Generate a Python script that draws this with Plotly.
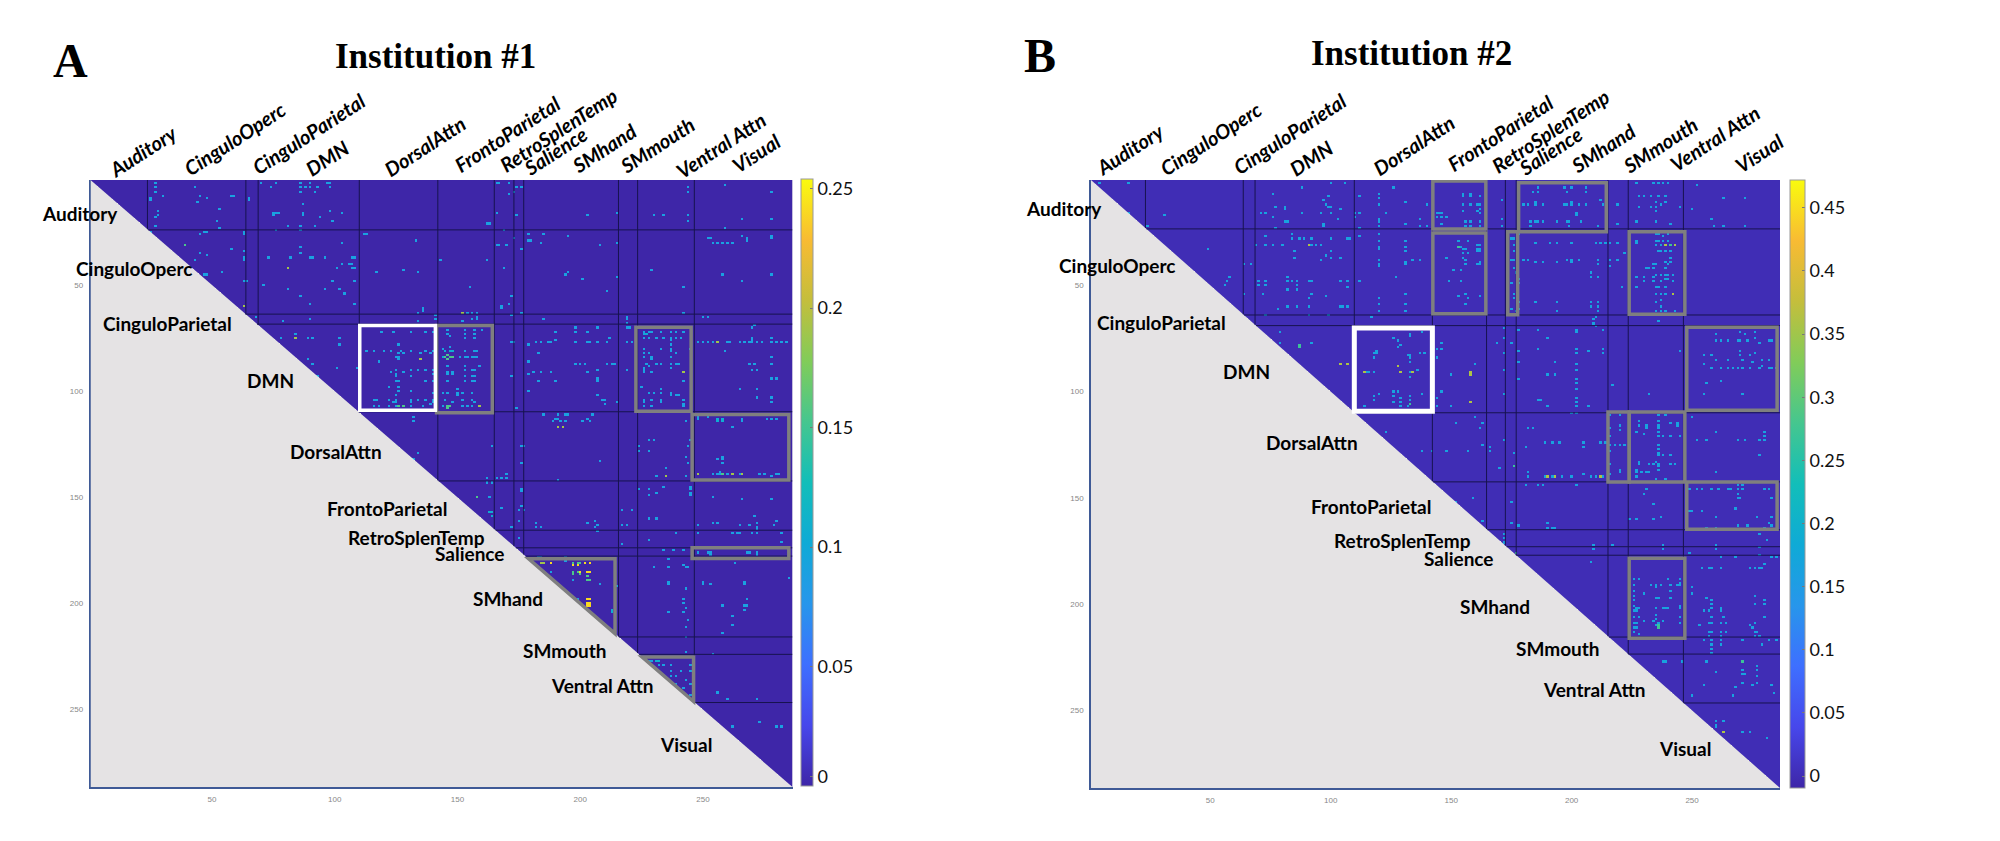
import numpy as np
import plotly.graph_objects as go

N = 286
W, H = 2000, 841

tick_vals = [50, 100, 150, 200, 250]
networks = ["Auditory", "CinguloOperc", "CinguloParietal", "DMN", "DorsalAttn", "FrontoParietal",
            "RetroSplenTemp", "Salience", "SMhand", "SMmouth", "Ventral Attn", "Visual"]

a_bounds_x = [23.7, 63.8, 68.8, 110, 142, 165, 173, 177, 215.6, 223.4, 246.5]
a_bounds_y = [24, 63.7, 68.4, 109.7, 142.3, 165.5, 173.8, 177.7, 215.8, 224, 246.7]
b_bounds_x = [23.1, 63.7, 68.6, 109.8, 142.2, 164.7, 172.5, 177, 215.1, 223.5, 246.4]
b_bounds_y = [23.5, 64, 69, 110, 142.5, 165, 173, 177, 215.5, 223.5, 246.5]

# (col, row) cell positions, grouped by colour level
a_light = [
 (27.4,2),(27.4,4),(27.4,6),(42.7,3.6),(30.4,7.5),(24.7,10),(25.4,10),(25.4,9),(44.7,7.5),(48.4,9),(43.8,11),
 (57.6,8.3),(58.7,8),(64.7,9),(64.7,10),(69.6,1.8),(76,1.8),(74,3.6),(86,2),(86,4),(86,6),(89.6,1.8),(87.6,3.6),
 (90.3,3.6),(93,3.6),(92,5.7),(97.4,1.8),(98,1.8),(98,3.6),(86.6,11.8),(52.6,13.8),(27.7,15),(27.7,17),(27,18.5),
 (74.6,15.8),(76,15.8),(77.4,15.8),(74.6,17),(86.6,15.7),(86.6,17),(97.8,15),(102.8,15.7),(98.9,20),(94.4,18.5),
 (26.6,22),(52,19.6),(81.4,21.6),(86,22),(91.9,21.6),(75.7,23.8),(86.5,23.8),(52.9,23),(25.4,24.8),(24.7,25.6),
 (44.7,25.6),(46.8,24.8),(48,24.8),(62.8,24.8),(62.8,25.9),(112,25.9),(112.9,25.9),(132.9,28.7),(102.8,29.8),
 (57.6,33),(44.7,34.7),(47.7,35.8),(43,37.8),(63.4,33.7),(62.8,36.9),(62.8,38),(72.6,36.9),(81.7,36.9),(85.5,34.7),
 (85.8,31.8),(89.6,36.9),(91,36.9),(96,36.9),(106.6,36.9),(108,36.9),(102.8,39.7),(106,39.7),(107.3,39.7),
 (100.9,42),(107.3,42),(108,42),(116.8,43.6),(128,42.8),(133.8,43.9),(143,37.8),(53.6,43.9),(47.4,44.8),(48,44.8),
 (62.8,47.5),(63.8,47.5),(98.9,47.8),(108,47.8),(70.8,49.9),(80.8,51.7),(95.7,51.7),(102.5,51.7),(103.9,53.8),
 (85.8,54.9),(89.6,58.8),(108,58.8),(135.9,60.8),(135.9,62.4),(133.8,62.9),(133.8,67),(140.6,64),(140.6,65.5),
 (67.8,64.8),(78.7,66.8),(89.6,65.9),(84.4,72.9),(77.8,74.8),(88.9,74.8),(91.2,74.8),(101.9,74.8),(101.9,78),
 (109.8,70.6),(109.8,74.8),(88.7,84.7),(91,86.7),(100.9,88.7),(109.3,88.7),(93.4,93),
 (119.1,71.5),(124,71.5),(130.8,71.5),(137,71.5),(140,71.5),(112.7,80.6),(115.9,80.6),(120,80.6),(123,80.6),
 (130.8,80.6),(137,80.6),(140,80.6),(125.7,78.5),(127,80.6),(125.7,82),(127.7,82),(125,83.6),(126.4,83.6),(125.7,85.1),
 (135.2,82.5),(138.6,82.5),(117.9,85.9),(125,90),(125,91.7),(125,93),(127.7,90.6),(131,90),(131,93),(133.8,90),(137,90),
 (122.9,90.9),(140,90),(140.6,90),(140,91.7),(140.6,91.7),(140,95.3),(140.6,95.3),(137,95.3),(125.7,95.3),(125,95.3),
 (126.4,97.6),(121.6,98.4),(126.4,100.2),(125,101.6),(131,100.3),(140,100.8),(115.9,103.6),(117.2,103.6),(122.3,103.6),
 (123.6,105.2),(125,103.6),(125,105.2),(125,107),(131,103.6),(131,105.2),(134.5,103.6),(136.6,103.6),(140,103.6),
 (140,105.2),(139.3,106.3),(116.1,107),(118.2,107),(121.9,107),(131,107),(135.9,107),(131.8,111.8),(131.8,113.6),
 (133.8,128.7),(132.5,132),
 (166,1.8),(166.6,1.8),(170.7,1.8),(171.4,1.8),(174.1,3.6),(176.2,3.6),(171.1,6.8),(173.2,5.7),(244.2,4),(244.2,5.7),
 (259.4,2.8),(278.5,5.7),(166,15.7),(174.1,16.6),(203.1,16.6),(215.2,15.7),(230.3,16.6),(234.2,16.6),(244.2,16.6),
 (244.2,19.8),(266.4,19.3),(278.5,18.8),(161.9,20.9),(162.8,20.9),(259.4,22.8),(169.1,23.7),(179.1,25.9),(185,25.9),
 (179.1,28.7),(180.2,28.7),(184,29.8),(195.2,26.8),(208.1,30.7),(215.2,29.8),(166,30.7),(166.9,30.7),(170.2,30.7),
 (173.2,27.6),(176.2,33),(251.7,27.8),(252.8,27.8),(254.4,29.8),(255.7,29.8),(258.5,29.8),(259.8,29.8),(262.3,29.8),
 (266.4,27.1),(268.3,27.9),(268.3,29),(278.5,27.1),(278.5,28),(161.9,37.8),(169.1,42),(229.2,42.8),(193.8,45.2),
 (195.2,43.6),(201.3,46.7),(215.2,46),(257.5,44.9),(266.4,47.8),(278.5,44.9),(155,51),(242.4,51),(211.1,52.7),(172,54.9),
 (171.1,58.8),(168,60),(168,60.8),(154.4,62.7),(156.4,62.7),(157.8,62.7),(172,63.7),(176.2,62.7),(242.1,62.7),
 (157.8,64.8),(157.8,66.3),(155.7,66.3),(151.9,66.8),(185,66),(219,64.8),(219,66),(219,67.6),(219,69.9),(220.4,69.9),
 (250.3,64.8),(252.3,64.8),(271.1,69),(270,70.2),(146.2,71),(153,71),(157.1,71),(159.8,71),(146.2,73.4),(146.9,74.5),
 (153,73.4),(153,75.4),(157.1,73.4),(157.1,75.4),(143.5,80.4),(146.9,78.9),(153,81.2),(157.1,81.2),(158.5,81.2),
 (151,84),(153,84),(153.7,84),(155.7,84),(157,84),(158,84),(153,87.5),(159.1,87.5),(146.2,87.5),(146.2,90.6),(146.2,92.2),
 (146.2,95.3),(147.6,90.6),(147.6,92.2),(153,89.8),(153,93),(153,95.3),(156.4,89.8),(157.1,89.8),(156.4,93),(157.1,93),
 (156.4,95.3),(157.1,95.3),(144.2,100.8),(145.5,100.8),(150,99.2),(150,100.8),(152.3,100.8),(156.4,100.8),(149.6,102.4),
 (152.3,104),(156.4,104),(157.1,105.2),(144.9,104),(147.6,104.7),(144.2,107),(151.7,107),(153.7,107),(156.4,107),
 (172,76.8),(173.4,76.8),(179.1,77.8),(182.3,76.8),(183.6,76.8),(187,76.8),(188.4,76.8),(190,75.7),(190,71.5),
 (198.3,69.5),(198.3,71.5),(198.3,76.8),(203.1,71.5),(203.1,76.8),(204,76.8),(207,70),(207,77.3),(212.2,75),(211.1,76.8),
 (219,76.8),(221.3,76.8),(183,82.5),(179.1,85.9),(198.3,86.7),(200.4,86.7),(202.3,86.7),(211.1,86.7),(212.9,86.7),
 (214.2,86.7),(179.1,91.7),(180.9,90.9),(184,90.9),(188.1,90.9),(172,93),(219,90.2),(203.4,90.9),(207,90.2),(207,94),
 (207,95),(183.2,95),(190,95),(179.1,99.7),(207,101.9),(208.8,103.6),(210.2,103.6),(210.2,105.8),(214.9,104.7),(174.1,107.9),
 (225.8,71.5),(228.5,71.5),(229.2,71.5),(233.3,71.5),(237.4,71.5),(239.4,71.5),(241.5,71.5),(226,73),(226.5,75),(228.1,75),
 (231.3,75),(234.2,75),(237.4,75),(239.4,75),(240.8,75),(237.4,76.5),(237.4,78),(245,79.6),(226.2,80.4),(226.2,82),
 (226.2,83.6),(228.5,82),(229.2,83.6),(229.2,85),(233.3,80.4),(237.4,79.6),(237.4,81.2),(239.1,82),(237.4,84.4),(237.4,86.7),
 (237.4,89),(238.7,86.7),(240.4,86.7),(227.2,86.7),(228.5,87.5),(231.3,86.7),(233.3,86.7),(226.5,89),(225.8,90),(225.8,90.9),
 (229.2,90.9),(242.1,95),(224.7,98),(228.1,100.8),(229.5,100.8),(233.3,99.2),(233.3,100.8),(237.4,100.8),(237.4,102),
 (239.4,101.9),(240.4,101.9),(226.2,103.6),(226.2,105.2),(228.9,103.6),(233.3,103.6),(233.3,105.2),(242.1,104),(242.1,105.8),
 (225.8,107.4),(229.2,107.4),(242.1,107.4),(247.6,76.8),(249.6,76.8),(251.7,76.8),(253.7,76.8),(259.8,76.8),(261.2,76.8),
 (265.3,76.8),(266.6,76.8),(268.7,76.8),(270,76.8),(272.1,76.8),(274.1,76.8),(278.2,76.8),(280.2,76.8),(282.3,76.8),(284.3,76.8),
 (270.3,75),(270.3,75.7),(277.5,75),(259.4,80.7),(277.5,83.6),(269.4,86.7),(270.7,86.7),(277.5,86.7),(270.3,90.2),(272.3,90.2),
 (277.5,94),(280.5,94),(265.3,98.9),(272.3,98.9),(272.3,102.8),(277.5,102.8),(277.5,105),
 (185,111),(190.7,111),(193.8,111),(195.2,111),(205.4,111),(189.8,112.6),(191.1,112.6),(189,114.1),(191.8,114.1),(201.3,113.7),
 (203.4,112.6),(204,114),(194.5,114),(243.2,113.7),(262.5,116.8),(248.3,112),(248.3,113),(251.7,112),(266.4,112.6),(266.4,113.7),
 (275.5,112.6),(278.2,112.6),(279.6,112.6),(230.3,122.8),(228.5,122.8),(244.9,122.8),(163.9,125.9),(175.9,125.9),(176.8,125.9),
 (224.5,125.9),(224.5,127.8),(228.1,127.8),(244.2,125.9),(243.2,130.6),(208.1,133),(176.2,133.7),(244.2,133.7),(255.7,131.8),
 (257.5,130.6),(257.5,132.2),(257.5,133.7),(235.3,135.6),(231.3,139.7),(243.2,139.7),(254.4,138.7),(255.7,138.7),(257.1,138.7),
 (260.2,138.7),(264.6,138.7),(273.4,138.7),(274.8,138.7),(279.6,138.7),(281,138.7),(257.1,137.6),(277.5,139.7),(161.9,140.8),
 (166,140.8),(168,140.8),(170,140.8),(170,139.2),(190.8,141.9),(161.9,143.4),(163.6,143.4),
 (175.5,145.6),(176.2,147),(162.8,150),(168,155),(176.2,153.7),(175,155.8),(176.8,155.8),(175,161),(181.9,162),(181.9,163.6),
 (184,164),(172,164),(203.1,162),(206.4,161),(207.4,163),(206.4,164),(206.8,166),(217,155.8),(221.3,155.8),(217,163),(219,163),
 (228.1,159.7),(231.3,159.7),(224.5,145.9),(228.1,145.9),(228.1,148.7),(231.3,147.9),(234.2,144.8),(244.9,144.8),(244.9,146.4),
 (244.9,147.9),(244.9,148.7),(254.4,150),(266.4,151),(278.5,151),(254.4,162),(255.7,162),(256.4,162),(248.5,163),(265.3,163),
 (269.4,163),(271.4,159.2),(272.1,162),(272.1,163.6),(272.1,165),(278.9,163),(280.5,161),(175,168.8),(228.1,169.9),(217,171.9),
 (239.1,167),(247.6,167),(262.5,167),(263.9,167),(265.3,167),(270.3,167),(272.3,167),(282.5,167),(282.5,170.6),(234.2,175),
 (238,175),(242.1,175),(248.3,176.1),(252.3,176.1),(253.2,176.1),(253.2,177.2),(268,176.1),(269.4,176.1),(272.1,176.1),(272.1,177.2),
 (183,177.7),(184,177.7),(194.1,178.2),(194.1,180.4),(230.3,182.7),(236.3,178.8),(236.3,182.7),(242.1,181.6),(243.1,182.7),(244.2,182.7),
 (263.2,180.8),(249.6,190.2),(249.6,191),(253.4,190.7),(236.3,190.2),(236.3,191),(267.3,190.2),(267.3,191),(284.6,188.4),(243.2,192.9),
 (242.1,198),(242.1,199.6),(243.2,202),(242.1,203.6),(236.3,203.6),(258.5,200.7),(268,198),(266.6,200.7),(267.6,200.7),(266.6,203.2),
 (262.5,205.9),(262.5,209.8),(257.5,214),(244.2,208),(243.2,211),(243.2,216.4),(243.2,223.2),(254.4,224),(208.1,190.7),(188.1,184.8),
 (197.2,188.7),(215.2,191.8),(197.2,198),(199.3,198),(200.4,199.6),(200.6,202),(208.1,208),(227.9,226.8),(229.2,226.8),(234,228.6),
 (237.4,228.6),(232.2,229.4),(234,229.4),(244.9,228.6),(237.4,231.6),(240.8,231.6),(244.9,231.6),(236.7,234),(238.7,234),(243.2,235.7),
 (244.9,238),(238.7,238),(242.1,240),(244.9,242.7),(256.1,242),(260.2,244.8),(272.1,244.8),(261.5,257.6),(273.4,255.8),(279.6,257.6),
 (281.6,257.6),(282.5,257.6),
]
a_strong = [
 (256.4,112.6),(257.5,112.6),(258.5,112.6),(256.4,113.7),(257.5,113.7),(143.5,84),(227,73),(144.9,81.2),(146.9,81.2),(148.3,81.2),
 (230.6,226.8),(232.2,226.8),(213.2,202.8),(213.2,204.3),(163.9,157.3),(163.9,158.9),(162.9,156.9),
]
a_green = [
 (126.4,107),(127.7,107),(145.5,107),(145.5,108),(146.2,107),(146.9,107),(144.9,84),(146.9,84),(148.3,84),(258.5,138.7),(157.8,150),
 (197.2,181.3),(198.6,181.3),(200,181.3),(197.2,185),(199.3,185),(197.2,186),(200.4,186),(203.4,188.7),(204,188.7),(203.4,187),
 (38.6,30.7),(180,181.3),(181.3,181.3),(146,83),(146,85),
]
a_orange = [
 (62.7,59.7),(80.8,42),(83.8,74.8),(135,84.7),(151.9,62.7),(159.1,107),(242.1,90.9),(255.7,76.8),(191.1,116.8),(193.2,116.8),
 (235.3,139.7),(247.6,138.7),(262.5,138.7),(265.9,138.7),(183.6,181.3),(185,181.3),(229.2,228.6),
]
a_yellow = [
 (187.7,181.3),(202.3,181.3),(204,181.3),(200.4,185),(203.4,185),(204,185),(203.4,198),(204,198),(203.4,199.6),(204,199.6),
 (203.4,201.2),(204,201.2),(197.2,182.5),(199.3,182.5),
]

b_light = [
 (4,2),(16.2,2.4),(16.2,15.8),(30.6,17),(24.1,22.1),(49.4,33),(57.9,46.2),(56.8,47.5),(55.6,50.3),(64.4,40.4),(67.4,40.4),(64.4,54),
 (76.2,7),(80.8,13),(80.8,14.3),(76.9,13),(87.7,4.4),(71.3,16.2),(72.7,16.2),(76.2,18),(81,20.1),(82.4,20.1),(88.3,16.2),(76.6,23.2),
 (96.3,16.2),(97,20.8),(97,22.4),(97,9.9),(99.1,8),(97.7,11.5),(99.1,13),(100.5,13),(100.5,16.2),(104,13.8),(106,2),(99.8,2.4),(103.3,19.3),
 (111.6,7.5),(111.6,16.2),(110.2,16.2),(110.2,17.7),(119.9,7),(119.9,9),(119.9,12.2),(119.9,19),(119.9,20.5),(119.9,21.6),(125.9,4.4),
 (123.1,15.8),(131,11.1),(140,11.5),(131,21.2),(137.3,19),(137.3,21.6),(140,21.6),(84.5,26.3),(84.5,27.9),(86.6,28.4),(89.4,28.4),(72.7,27.4),
 (72.7,31),(69.2,31),(75.5,31),(79.7,31),(84.8,33.8),(84.8,36.8),(91.7,31),(94.3,31),(95.6,31),(92.2,27.9),(99.8,28.4),(107.4,28.4),(108.5,28.4),
 (99.8,33.8),(97.7,36.2),(96.3,38),(99.8,36.8),(104,36.8),(111.6,22.7),(111.6,27.1),(119.9,26.3),(119.9,28.7),(119.9,31.8),(119.9,33.4),(119.9,38),
 (119.9,39.6),(119.9,40.9),(131,28.7),(131,31.5),(131,33.7),(131,38.8),(131,40.4),(134,38),(137.3,38),(69.5,48.2),(72.7,48.2),(69.5,50.3),(72.7,50.3),
 (82.4,45.9),(82.4,48.2),(83.8,48.2),(85.5,48.2),(82.4,52.1),(85.5,50.3),(85.5,52.1),(90.8,48.2),(92.2,48.2),(90.8,56),(92.2,54),(72.3,54.5),(97.7,55),
 (104,48.2),(107.2,48.2),(107.2,50.9),(111.6,48.2),(127.2,46.2),(119.9,56),(119.9,58.7),(119.9,62.3),(131,54),(131,58.7),(131,61.8),(104,60),(105.4,60),
 (107.4,60),(77.6,61.2),(81.5,60),(85.5,60),(90.8,60),(72.7,64.4),(90.8,63.9),(98.8,64.4),(116.9,65),(78.6,72),(78.6,77.2),(91.7,77.2),
 (126.2,75.3),(128.3,76.4),(127.6,78.8),(129,78),(133.1,73.3),(133.1,74.4),(138.3,72.2),(118.6,81.4),(117.9,82.2),(119.2,82.2),(118.3,84.2),(131.8,83),
 (133.1,82.6),(137.3,82.2),(138.7,82.2),(133.1,84.2),(133.1,85.8),(115.1,91.3),(116.5,91.3),(117.9,91.3),(133.1,91.3),(135.9,90.5),(133.1,92.8),
 (117.9,102.2),(120,101.4),(117.9,103.8),(126.2,99.9),(128.3,99.9),(126.2,102.2),(126.2,105.3),(129,103),(129,104.6),(129,106.9),(133.1,102.2),(133.1,104.1),
 (131.8,106.9),(138.3,101.4),(113.7,107.2),(122.7,119.1),(138.3,128),(142.2,128),
 (155.4,6.8),(157.5,6.8),(155.4,7.5),(157.5,7.5),(161.7,7.5),(162.4,7.5),(155.4,12.2),(157.5,12.2),(161,12.2),(161.7,11.5),(161.7,13.8),(155.4,14.9),
 (161,14.9),(161.7,16.2),(143.6,16.2),(145,16.2),(146.4,16.2),(144.3,18),(145.7,18),(148.5,18),(156.1,20.1),(157.5,20.1),(156.1,21.6),(157.5,22.4),(162.4,20.1),
 (161.7,22.4),(146.4,20.8),(170.7,10.2),(170.7,19),(170.7,22.1),(186,4.4),(183.9,6.4),(186,6.4),(197.1,4.4),(199.9,4.4),(198.5,6.4),(206.1,4.4),(206.1,6.4),
 (211.7,9.9),(213,11.5),(179.7,12.2),(181.8,12.2),(184.6,10.7),(184.6,12.2),(188,11.5),(188,12.2),(197.1,12.2),(198.5,11.5),(199.9,10.7),(200.5,12.2),(203.3,12.2),
 (206.1,12.2),(201.9,16.2),(201.9,17),(183.2,20.5),(184.6,20.5),(186,20),(188,20.5),(183.2,21.6),(193.6,20.5),(197.8,20.5),(199.1,20.5),(199.1,21.6),(204.3,20),(211,21.6),
 (219.3,11.8),(219.3,20.8),(226.9,2.4),(233.9,2.4),(236,2.4),(238,2.4),(240.1,2.4),(227.6,8),(230.4,8),(233.2,8),(236,8),(239.4,8),(235.3,11.1),(236.7,11.5),(239.4,11.1),
 (228.3,13.3),(233.2,13.3),(234.6,13.3),(234.6,14.6),(245.4,13.3),(227.3,20),(234.6,20),(241.2,21.2),(251.7,3.3),(250.3,14.3),(262.8,9.1),(271.6,9.1),(257.5,19),
 (258.6,22.1),(262.8,22.1),(271.6,22.1),(152.6,29.1),(156.8,29.1),(154,31.8),(155.4,32.6),(156.1,33.4),(154.7,34.9),(156.8,34.9),(155.4,36.8),(161,31),(162.4,31),
 (161,32.6),(162.4,32.6),(161,34.1),(162.4,34.1),(147.8,36.8),(156.1,38),(156.1,39.6),(161,40.4),(162.4,40.4),(161.7,39),(151.2,42.8),(154,42.8),(154,48.2),(148.7,48.2),
 (152.6,55.3),(156.1,54.5),(156.8,56),(162.4,55.3),(156.1,59.2),(174.9,27.9),(176.2,27.9),(176.2,31),(176.2,34.1),(174.9,38),(176.2,38),(176.2,42),(176.9,44.3),(174.9,49),
 (176.2,53.7),(176.2,56),(174.9,60.8),(176.9,62.3),(178.3,26.3),(178.3,46.7),(178.3,49),(178.3,58.4),(178.3,60.8),(184.6,29.9),(190.8,29.9),(193.6,29.9),(200.5,29.9),
 (209.6,29.9),(211.7,29.9),(213.8,29.9),(180.4,38),(182.5,38),(184.6,39),(188,39),(193.6,39),(198.5,38),(199.9,38),(200.5,39),(203.3,38),(211.3,38),(211.3,39.6),(208.2,44.3),
 (208.2,45.9),(211.3,45.9),(184.6,57.6),(193.6,57.6),(193.6,62.3),(208.2,57.6),(211.3,57.6),(208.2,59.9),(211.3,59.9),(211.3,62.3),(215.8,29.5),(218.6,30.2),(222.1,34.9),
 (215.8,38),(219.3,38),(215.8,41.2),(221.4,51.4),(227.3,29.1),(227.3,30.2),(234.6,29.1),(236,29.1),(238,29.1),(240.1,29.1),(234.6,26.3),(236,26.3),(238,27.1),(240.1,26.3),
 (235.3,31),(236.7,31),(236,34.1),(237.3,34.1),(239.4,34.1),(241.2,34.1),(241.2,37.3),(233.9,39.6),(235.3,39.6),(232.5,41.5),(231.1,42),(233.9,41.5),(238.7,38.8),(240.1,40.4),
 (240.8,38.8),(239.4,42),(227,46.2),(230.4,45.9),(230.4,48.2),(233.9,45.9),(233.9,48.2),(235.3,45),(236.7,45),(236.7,48.2),(238.7,45),(240.1,45),(241.5,45),(238.7,46.7),(240.1,46.7),
 (241.5,48.2),(227,50.9),(234.6,50.9),(236,50.9),(238.7,50.9),(234.6,54.5),(237,54.5),(239.4,54.5),(234.6,57.6),(236.7,56.8),(236.7,59.5),(234.6,62.3),(236.7,62.3),(239.4,62.3),
 (242.9,62.3),(236.4,67),(208.9,66.2),(209.6,65),(208.9,67.8),(209.6,68.9),(171.7,70.1),(168.6,77.2),(172.1,74.8),(174.9,77.2),(172.1,81.9),(177.9,70.9),(177.9,81.4),(186,71.2),
 (186,80.3),(190.1,75.2),(201.9,70.9),(201.9,72.5),(201.9,80.3),(201.9,82.2),(213,70.9),(213,80.3),(213,82.2),(207.2,81.4),(177.6,85.8),(192.9,86.1),(201.9,87.4),(172.1,89.7),
 (172.1,90.5),(190.1,92.4),(192.9,92.4),(201.9,90.5),(201.9,94.4),(201.9,96),(177.6,93.9),(201.9,99.1),(201.9,103),(201.9,104.6),(201.9,106.9),(172.1,101.4),(186,104.1),(187.4,104.1),
 (190.1,106.9),(207.2,106.9),(217.2,97.2),(232.2,101.4),(245.3,81.1),(145.7,77.2),(144.3,79.5),(145.7,79.5),(144.3,84.2),(159.6,87),(149.9,92),(145.7,100.2),(143.6,103.3),(149.9,107.2),
 (143.6,107.2),(260.3,73),(270.3,72),(276.3,72),(272.1,73),(260.3,76.1),(261.7,76.1),(265.1,76.1),(268.6,76.1),(270,76.1),(272.8,76.1),(276.3,75),(278.4,77),(281.8,76.1),(283.2,76.1),
 (270.3,81.1),(270.3,82.7),(254.7,83),(258.2,83),(274.2,83),(276.3,81.9),(260.3,85),(265.4,85),(270.7,85),(274.9,85.7),(279,85),(282.5,85),(248.5,88.9),(254.7,87),(257.5,88.9),(261.7,88.9),
 (265.1,88.9),(267.2,88.9),(269.3,88.9),(271.4,88.9),(273.5,88.9),(278.4,88.9),(279,88),(281.8,88.9),(283.2,88.9),(284.6,88.9),(256.4,96),(261.7,94.9),(255.1,101.4),(270.7,101.4),
 (200.5,110.5),(201.9,110.5),(160,112.4),(163,115.2),(161.7,117),(151.9,115.2),(163,125.2),(156.8,128),(147.8,128),(165.8,126.5),(165.8,128),(172.1,123.3),(176.2,129.1),(170,135.9),
 (181.8,117.1),(184.1,117.1),(181.1,125.7),(188.7,124.1),(192.2,124.1),(195.3,124.1),(204.7,124.1),(205.4,125.7),(212.3,124.1),(213.7,124.1),(181.8,138.2),(181.8,139.8),(188.8,139.8),
 (191.5,139.8),(195.7,139.8),(200.5,139.8),(204.7,138.8),(208.2,139.8),(209.6,139.8),(213,139.8),(216.5,110.8),(220,110.8),(220,115.5),(220,117.8),(216.5,117.1),(216.5,120.9),(216.5,124.9),
 (218,124.9),(220,124.9),(222,124.9),(216.5,128),(216.5,133.5),(220,136.7),(220,138.2),(216.5,139),(227.6,113.9),(231.4,116.3),(227.6,116.3),(230.4,120.2),(227,119.4),(236,110.8),(239.4,110.8),
 (236,114),(236,115.5),(236,117.1),(236,118.7),(236,121),(231.4,117.1),(240.8,114.7),(243.6,114.7),(243.6,116.3),(240.8,121),(238,121),(245.3,121),(236,124.9),(236,127.3),(236,128.9),(236,130.4),
 (236,133.5),(234.6,132.7),(232.5,133.5),(233.9,133.5),(238,130.4),(240.8,130.4),(240.8,133.5),(242.9,133.5),(227.6,132.7),(228.3,133.5),(227,138.2),(229,138.2),(231,138.2),(232.5,138.2),
 (227,136.7),(227,139.8),(236,135),(236,137.4),(235.3,141),(239.4,141),(250.5,112.4),(259.6,119.4),(252,123.4),(256.1,123.4),(269.3,123.4),(272.1,123.4),(277.6,123.4),(280.4,119.4),(280.4,121),
 (280.4,123.4),(277.6,130.4),(259.6,138.2),
 (151.9,151.5),(158.9,149.6),(163,161.2),(174.9,151.5),(174.9,162.2),(177.6,163.3),(172.1,167.2),(172.1,168.7),(172.1,171.1),(190.1,162.2),(190.1,164),(192.2,164),(193.3,164),(181.1,144.5),
 (186,144.5),(188,144.5),(201.9,144.5),(231.1,146.5),(230,148),(234.1,153),(224.2,160.1),(227.4,160.1),(234.1,160.1),(237.3,159),(208.9,172.2),(208.9,174.2),(217,172.2),(238.3,172.2),(238.3,174.2),
 (208.2,180),(259.6,171.9),(259.6,174.2),(249.2,175.8),(262.4,177.8),(267.6,177.8),(277.6,167.2),(281.1,170.3),(277.6,173.4),(283.2,178),(285.3,178),(278.3,177),(249.4,146.5),(252,146.5),(254,146.5),
 (257.5,146.5),(261,146.5),(265.1,146.5),(266.5,146.5),(269.3,146.5),(271.4,146.5),(280.4,146.5),(282.5,146.5),(269.3,144.5),(271.4,144.5),(269.3,148.4),(269.3,150.3),(270,150.3),(283.2,150.3),(249.2,156),
 (250.5,156.5),(253.6,156.5),(267.9,155.4),(259.6,159),(277,159),(283.2,159),(256.1,164),(259.6,164),(269.3,163.3),(272.8,163.3),(280.4,164),(283.2,163.3),(282.5,161.7),
 (225.5,188.2),(227.6,188.2),(225.5,190.6),(240.4,188.2),(245.3,187.5),(245.3,189.9),(233.2,191.4),(235.3,191.4),(236.7,191.4),(240.8,191.4),(243.6,191.4),(245.3,191.4),(225.5,193.8),(225.5,195.7),(225.5,197.7),
 (226.5,197.7),(230.4,195),(235.3,192),(240.8,194),(240.8,197),(234.6,197.2),(236,197.2),(225.5,200.8),(227,201.6),(228.3,202.4),(225.5,202.8),(227,202.8),(234.6,201.6),(238,202.4),(239.4,202.4),(240.4,201.6),
 (240.4,202.4),(245.3,202.4),(245.3,200.8),(234.6,204.7),(225.5,206.3),(227.6,206.3),(225.5,209),(227,209.4),(225.5,211),(227,211),(225.5,213.4),(227.6,214),(233.9,207.5),(235.3,207),(236,208.6),(235.3,210.2),
 (245,206.3),(245,209.4),(238,207.9),(229.7,207.9),(254.3,183.1),(256.8,183.1),(258.2,183.1),(262.4,183.1),(274.2,183.1),(276.3,183.1),(278.3,183.1),(279.7,181),(279,183.1),(250.3,192.2),(250.3,195.3),(256.4,196.6),
 (258.2,198.5),(257.5,200),(258.2,201.6),(255.4,202.8),(256.8,202.8),(262.4,201.6),(262.4,202.8),(275.5,196.1),(275.5,200),(279.7,198.5),(279.7,200),(258.2,205.5),(263,205.5),(264.4,209.4),(262.4,209.4),(262.4,212.6),
 (264.4,212.6),(256.8,209.4),(258.2,209.4),(253.4,210.2),(256.8,212.6),(258.2,212.6),(256.8,214.9),(275.5,209.4),(274.9,211),(273.5,210.2),(276.9,212.6),(275.5,212.6),(275.5,214.9),(278,214.9),(279.7,205.5),(262.4,214.9),
 (262.4,217.3),(262.4,219.1),(255.4,217),(258.2,217),(258.2,218.8),(258.2,221.2),(258.2,222.7),(271.4,217),(282.5,217),(285.3,217),(279,218.8),(238,227.1),(239.2,227.1),(246.4,227.1),(256.4,227.1),(270.7,231.3),
 (270.7,232.9),(272,232.9),(270.7,236.8),(276.7,229),(276.7,231.3),(276.7,234.5),(276.7,236.8),(274.9,238.4),(260.3,232.1),(255.1,238.4),(267.9,239.2),(250.3,243),(267.2,243),(283.2,238.4),(283.5,242.3),(259.6,255.1),
 (259.6,257.2),(263,255.1),(259.6,258.4),(270.7,260.3),(273.5,260.3),(280.7,263.1),
]
b_green = [
 (86.6,78),(86.6,79.2),(133.1,106.1),(152.6,31.8),(240.8,31),(176.2,134.8),(236,210.2),(236,211),(270.7,227.4),(176.9,176.3),
]
b_orange = [
 (90.8,31),(104,87),(107,87),(128,88.1),(129,91.3),(113.7,91.3),(134.5,91.3),(157.5,91.3),(157.5,92.4),(157.5,105.3),(239.4,31),(242.9,31),
 (241.5,54.5),(190.1,139.8),(192.9,139.8),(211.7,139.8),(262.6,260.3),
]

a_levels = {"light": 0.09, "strong": 0.105, "green": 0.155, "orange": 0.19, "yellow": 0.24}
b_levels = {"light": 0.165, "green": 0.27, "orange": 0.36}

parula_stops = [0, .1, .2, .3, .4, .5, .6, .7, .8, .9, 1]
parula_colors = ["#3E26A8", "#4747EB", "#3E6FFF", "#2796EB", "#0FAAD6", "#12BEB9", "#45C68F", "#81CC59", "#C4BE3C", "#F8BB33", "#F9FB0E"]
parula = [[s, c] for s, c in zip(parula_stops, parula_colors)]

a_ticks = [0.004, 0.05, 0.1, 0.15, 0.2, 0.25]
a_tick_text = ["0", "0.05", "0.1", "0.15", "0.2", "0.25"]
b_ticks = [0, 0.05, 0.1, 0.15, 0.2, 0.25, 0.3, 0.35, 0.4, 0.45]
b_tick_text = ["0", "0.05", "0.1", "0.15", "0.2", "0.25", "0.3", "0.35", "0.4", "0.45"]


def make_matrix(groups):
    z = np.full((N, N), np.nan)
    for r in range(N):
        z[r, r:] = 0.0
    for pts, v in groups:
        for c, r in pts:
            i, j = int(round(r)) - 1, int(round(c)) - 1
            if j >= i:
                z[i, j] = v
    return z


z_a = make_matrix([(a_light, a_levels["light"]), (a_strong, a_levels["strong"]), (a_green, a_levels["green"]),
                   (a_orange, a_levels["orange"]), (a_yellow, a_levels["yellow"])])
z_b = make_matrix([(b_light, b_levels["light"]), (b_green, b_levels["green"]), (b_orange, b_levels["orange"])])
axis_cells = list(range(1, N + 1))

fig = go.Figure()


def cbar(x0, thick, top, bottom, vals, text):
    return dict(
        x=x0 / W, xanchor="left", thickness=thick, thicknessmode="pixels",
        y=1 - bottom / H, yanchor="bottom", len=(bottom - top) / H, lenmode="fraction",
        tickvals=vals, ticktext=text, ticks="inside", ticklen=3, tickcolor="#777",
        tickfont=dict(family="Lato", size=18, color="#111"), outlinecolor="#999", outlinewidth=1, ypad=0, xpad=0,
    )


fig.add_trace(go.Heatmap(z=z_a, x=axis_cells, y=axis_cells, xaxis="x", yaxis="y", colorscale=parula, zmin=0, zmax=0.254,
                         hoverongaps=False, colorbar=cbar(801, 12, 179, 786, a_ticks, a_tick_text)))
fig.add_trace(go.Heatmap(z=z_b, x=axis_cells, y=axis_cells, xaxis="x2", yaxis="y2", colorscale=parula, zmin=-0.0095, zmax=0.472,
                         hoverongaps=False, colorbar=cbar(1790, 15, 180, 788, b_ticks, b_tick_text)))


def axis_style(domain, anchor, reverse=False):
    d = dict(domain=domain, anchor=anchor, range=[N + 0.5, 0.5] if reverse else [0.5, N + 0.5], tickvals=tick_vals,
             ticks="outside", ticklen=4, tickcolor="rgba(0,0,0,0)", tickfont=dict(family="Liberation Sans", size=8, color="#888"),
             showgrid=False, zeroline=False, showline=True, linecolor="#3F5A96", linewidth=1.5)
    return d


fig.update_layout(
    width=W, height=H, margin=dict(l=0, r=0, t=0, b=0), paper_bgcolor="white", plot_bgcolor="#E5E3E4", showlegend=False,
    xaxis=axis_style([90.5 / W, 792.5 / W], "y"),
    yaxis=axis_style([1 - 787 / H, 1 - 180 / H], "x", True),
    xaxis2=axis_style([1091 / W, 1780 / W], "y2"),
    yaxis2=axis_style([1 - 788 / H, 1 - 180 / H], "x2", True),
)

shapes = []
line_col = "#17134F"
# smooth grey lower triangle over the stepped edge of the cells
for ax, ay in (("x", "y"), ("x2", "y2")):
    shapes.append(dict(type="path", xref=ax, yref=ay, path=f"M 0.5 0.5 L {N + 0.5} {N + 0.5} L 0.5 {N + 0.5} Z",
                       fillcolor="#E5E3E4", line=dict(width=0)))
for ax, ay, bx, by in (("x", "y", a_bounds_x, a_bounds_y), ("x2", "y2", b_bounds_x, b_bounds_y)):
    for b in bx:
        shapes.append(dict(type="line", xref=ax, yref=ay, x0=b, x1=b, y0=0.5, y1=b, line=dict(color=line_col, width=1)))
    for b in by:
        shapes.append(dict(type="line", xref=ax, yref=ay, x0=b, x1=N + 0.5, y0=b, y1=b, line=dict(color=line_col, width=1)))

grey = "#7F7F7F"
a_boxes = [(141.5, 164.2, 69.1, 110.2), (222.7, 245.2, 69.9, 109.4), (245.6, 285, 111, 141.9), (245.6, 285, 173.8, 178.8)]
a_white = [(110.2, 141, 69, 109)]
a_tris = [(179, 214.2), (225.2, 246.2)]
b_boxes = [(142.4, 164.4, 1, 23.5), (142.4, 164.4, 25.4, 63.4), (173.5, 177.6, 24.8, 63.9), (178, 214.4, 1.8, 24.8),
           (223.9, 247, 24.8, 63.6), (247.8, 285.3, 69.8, 108.8), (215.1, 223.9, 109.6, 142.6), (223.9, 247, 109.6, 142.6),
           (247.8, 285.3, 142.6, 164.8), (223.9, 247, 178.4, 216)]
b_white = [(109.8, 142.2, 70.1, 109.3)]

for ax, ay, boxes, whites, w_white in (("x", "y", a_boxes, a_white, 3.5), ("x2", "y2", b_boxes, b_white, 5)):
    for x0, x1, y0, y1 in boxes:
        shapes.append(dict(type="rect", xref=ax, yref=ay, x0=x0, x1=x1, y0=y0, y1=y1, line=dict(color=grey, width=3.5)))
    for x0, x1, y0, y1 in whites:
        shapes.append(dict(type="rect", xref=ax, yref=ay, x0=x0, x1=x1, y0=y0, y1=y1, line=dict(color="white", width=w_white)))
for a, b in a_tris:
    shapes.append(dict(type="path", xref="x", yref="y", path=f"M {a} {a} L {b} {a} L {b} {b} Z", line=dict(color=grey, width=3.5)))
fig.update_layout(shapes=shapes)


def note(text, px, py, family="Lato", size=19, angle=0, color="#000"):
    return dict(text=text, x=px / W, y=1 - py / H, xref="paper", yref="paper", showarrow=False, xanchor="center", yanchor="middle",
                textangle=angle, font=dict(family=family, size=size, color=color))


serif = "Liberation Serif"
notes = [note("<b>A</b>", 70, 60, serif, 48), note("<b>Institution #1</b>", 435, 56, serif, 35),
         note("<b>B</b>", 1040, 55, serif, 48), note("<b>Institution #2</b>", 1411, 53, serif, 35)]

a_top_pos = [(143, 151), (234, 139), (308, 134), (327, 158), (425, 146), (507, 134), (558, 130), (555, 151), (604, 148), (657, 145), (721, 145), (756, 153)]
a_left_pos = [(80, 213), (134, 268), (167, 323), (270, 380), (336, 452), (387, 508), (416, 537), (469, 553), (508, 598), (565, 650), (602, 685), (686, 744)]
b_top_pos = [(1130, 149), (1210, 139), (1289, 134), (1311, 158), (1414, 145), (1500, 133), (1550, 131), (1550, 151), (1603, 148), (1660, 145), (1715, 138), (1759, 153)]
b_left_pos = [(1064, 208), (1117, 265), (1161, 322), (1246, 371), (1312, 442), (1371, 506), (1402, 540), (1458, 558), (1495, 606), (1558, 648), (1594, 689), (1685, 748)]

for name, p1, p2, p3, p4 in zip(networks, a_top_pos, a_left_pos, b_top_pos, b_left_pos):
    notes.append(note(f"<b><i>{name}</i></b>", p1[0], p1[1], size=20, angle=-33))
    notes.append(note(f"<b>{name}</b>", p2[0], p2[1]))
    notes.append(note(f"<b><i>{name}</i></b>", p3[0], p3[1], size=20, angle=-33))
    notes.append(note(f"<b>{name}</b>", p4[0], p4[1]))
fig.update_layout(annotations=notes)

fig.write_html("out.html", config={"displayModeBar": False},
               post_script="document.body.style.margin='0';document.documentElement.style.overflow='hidden';")
